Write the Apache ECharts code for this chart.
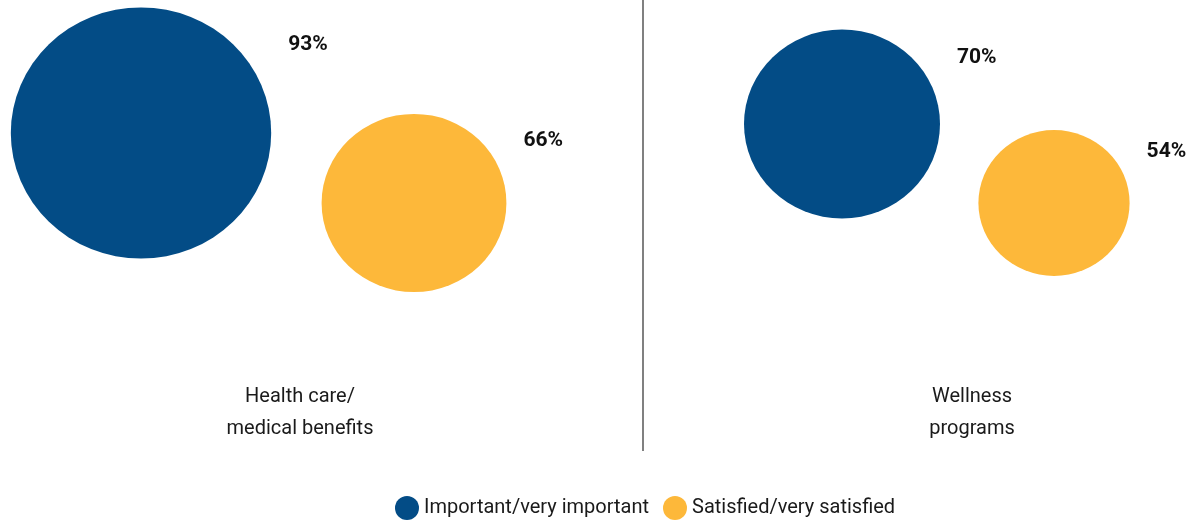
<!DOCTYPE html>
<html>
<head>
<meta charset="utf-8">
<script src="https://cdn.jsdelivr.net/npm/echarts@6/dist/echarts.min.js"></script>
<style>
  html, body { margin: 0; padding: 0; background: #fff; }
  #chart { width: 1196px; height: 525px; }
</style>
</head>
<body>
<div id="chart"></div>
<script>
var categories = ['Health care/\nmedical benefits', 'Wellness\nprograms'];
var seriesNames = ['Important/very important', 'Satisfied/very satisfied'];
var important = [93, 70];
var satisfied = [66, 54];

// layout (pixels), not data
var FONT = 'Roboto, "Noto Sans", sans-serif';
var colors = ['#034c86', '#fdb83a'];
var panelCenter = [300, 972];
var panelWidth = 440;
var plotHeight = 375;
var offsetX = [[-159, -130], [114, 82]];
var centerY = [[133, 124], [203, 203]];

var chart = echarts.init(document.getElementById('chart'), null, { renderer: 'canvas' });

var grids = [], xAxes = [], yAxes = [], series = [];
panelCenter.forEach(function (cx, i) {
    grids.push({ left: cx - panelWidth / 2, width: panelWidth, top: 0, height: plotHeight });
    xAxes.push({
        type: 'category', gridIndex: i, data: [categories[i]],
        axisLine: { show: false }, axisTick: { show: false }, splitLine: { show: false },
        axisLabel: { margin: 6, fontFamily: FONT, fontSize: 20, lineHeight: 32, color: '#1a1a1a' }
    });
    yAxes.push({ type: 'value', gridIndex: i, min: 0, max: plotHeight, inverse: true, show: false });
});

[important, satisfied].forEach(function (vals, s) {
    vals.forEach(function (v, i) {
        var w = v * 2.8, h = v * 2.7;
        series.push({
            name: seriesNames[s],
            type: 'scatter',
            xAxisIndex: i, yAxisIndex: i,
            symbol: 'circle',
            itemStyle: { color: colors[s], opacity: 1 },
            emphasis: { disabled: true },
            data: [{
                value: [0, centerY[s][i], v],
                symbolSize: [w, h],
                symbolOffset: [offsetX[s][i], 0],
                label: {
                    show: true,
                    position: [w + 17, h / 2 - 0.7 * h / 2],
                    align: 'left', verticalAlign: 'middle',
                    formatter: v + '%',
                    fontFamily: FONT, fontSize: 21, fontWeight: 'bold', color: '#111'
                }
            }]
        });
    });
});

var option = {
    animation: false,
    color: colors,
    grid: grids,
    xAxis: xAxes,
    yAxis: yAxes,
    legend: {
        bottom: 0, left: 390,
        icon: 'circle', itemWidth: 24, itemHeight: 24, itemGap: 14,
        data: seriesNames,
        textStyle: { fontFamily: FONT, fontSize: 20, color: '#1a1a1a' }
    },
    graphic: [{
        type: 'line',
        shape: { x1: 643, y1: 0, x2: 643, y2: 451 },
        style: { stroke: '#808080', lineWidth: 2 }
    }],
    series: series
};
chart.setOption(option);
</script>
</body>
</html>
